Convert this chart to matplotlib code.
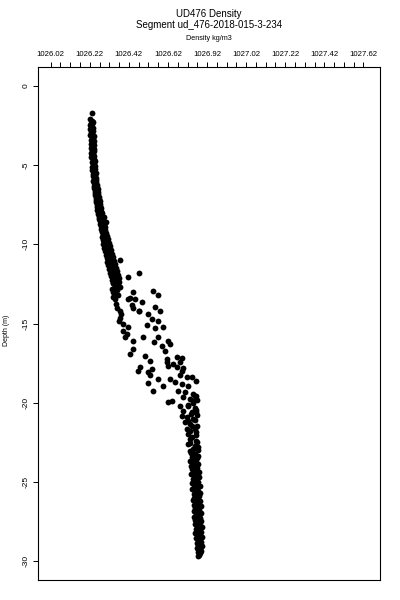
import matplotlib
matplotlib.use("Agg")
import matplotlib.pyplot as plt

plt.rcParams['font.family'] = ['Liberation Sans', 'DejaVu Sans']

# === Profile data (depth m, density kg/m3) ===
upper_depth = [
    -1.70,
    -2.10, -2.18, -2.25, -2.32, -2.40, -2.47, -2.55, -2.62, -2.70, -2.78,
    -2.85, -2.93, -3.00, -3.08, -3.15, -3.23, -3.30, -3.38, -3.45, -3.53,
    -3.60, -3.68, -3.75, -3.83, -3.90, -3.98, -4.05, -4.13, -4.20, -4.28,
    -4.35, -4.43, -4.50, -4.58, -4.65, -4.73, -4.80, -4.88, -4.95, -5.03,
    -5.10, -5.18, -5.25, -5.33, -5.40, -5.48, -5.55, -5.63, -5.70, -5.78,
    -5.85, -5.93, -6.00, -6.08, -6.15, -6.23, -6.30, -6.38, -6.45, -6.53,
    -6.60, -6.68, -6.75, -6.83, -6.90, -6.98, -7.05, -7.13, -7.20, -7.28,
    -7.35, -7.43, -7.50, -7.58, -7.65, -7.73, -7.80, -7.88, -7.95, -8.03,
    -8.10, -8.18, -8.25, -8.33, -8.40, -8.48, -8.55, -8.63, -8.70, -8.78,
    -8.85, -8.93, -9.00, -9.08, -9.15, -8.60, -8.30,
]
upper_density = [
    1026.231,
    1026.221, 1026.230, 1026.236, 1026.224, 1026.233, 1026.220, 1026.228, 1026.237, 1026.223, 1026.231,
    1026.238, 1026.225, 1026.233, 1026.223, 1026.239, 1026.229, 1026.236, 1026.224, 1026.240, 1026.230,
    1026.237, 1026.225, 1026.241, 1026.231, 1026.226, 1026.239, 1026.232, 1026.242, 1026.227, 1026.238,
    1026.233, 1026.243, 1026.228, 1026.240, 1026.234, 1026.245, 1026.229, 1026.241, 1026.235, 1026.247,
    1026.231, 1026.242, 1026.248, 1026.233, 1026.244, 1026.250, 1026.234, 1026.247, 1026.237, 1026.251,
    1026.239, 1026.253, 1026.238, 1026.254, 1026.241, 1026.256, 1026.242, 1026.258, 1026.244, 1026.260,
    1026.246, 1026.262, 1026.247, 1026.264, 1026.249, 1026.266, 1026.250, 1026.267, 1026.252, 1026.270,
    1026.254, 1026.271, 1026.256, 1026.274, 1026.258, 1026.276, 1026.259, 1026.279, 1026.262, 1026.281,
    1026.263, 1026.284, 1026.265, 1026.287, 1026.267, 1026.290, 1026.270, 1026.292, 1026.272, 1026.295,
    1026.275, 1026.297, 1026.277, 1026.300, 1026.280, 1026.302, 1026.295,
]

mid_depth = [
    -9.25, -9.30, -9.38, -9.45, -9.52, -9.60, -9.68, -9.75, -9.82, -9.90,
    -9.98, -10.05, -10.12, -10.20, -10.28, -10.35, -10.42, -10.50, -10.58, -10.65,
    -10.72, -10.80, -10.88, -10.95, -11.02, -11.10, -11.18, -11.25, -11.32, -11.40,
    -11.48, -11.55, -11.62, -11.70, -11.78, -11.85, -11.92, -12.00, -12.08, -12.15,
    -12.22, -12.30, -12.38, -12.45, -12.55, -12.75, -12.90, -13.10, -13.30, -10.96,
    -12.04, -11.78,
]
mid_density = [
    1026.280, 1026.302, 1026.290, 1026.310, 1026.282, 1026.298, 1026.312, 1026.286, 1026.303, 1026.316,
    1026.290, 1026.309, 1026.322, 1026.294, 1026.313, 1026.327, 1026.298, 1026.318, 1026.332, 1026.303,
    1026.322, 1026.338, 1026.307, 1026.328, 1026.343, 1026.310, 1026.333, 1026.348, 1026.315, 1026.337,
    1026.352, 1026.318, 1026.341, 1026.358, 1026.322, 1026.346, 1026.364, 1026.326, 1026.350, 1026.370,
    1026.335, 1026.353, 1026.372, 1026.340, 1026.352, 1026.345, 1026.360, 1026.350, 1026.340, 1026.373,
    1026.414, 1026.470,
]

scatter_depth = [
    -12.41, -12.67, -13.04, -12.98, -12.92, -13.17, -13.48, -13.36, -13.42, -13.67,
    -13.86, -13.99, -14.24, -14.24, -13.93, -14.24, -14.62, -14.43, -14.74, -15.12,
    -14.87, -15.06, -15.31, -15.25, -15.50, -15.69, -15.88, -15.88, -15.88, -16.13,
    -16.19, -16.45, -16.13, -16.32, -16.64, -16.95, -17.08, -16.76, -17.26, -17.14,
    -17.20, -17.39, -17.71, -17.58, -17.83, -17.77, -18.02, -17.90, -18.27, -18.27,
    -18.40, -18.40, -18.65, -18.78, -18.53, -18.97, -18.53, -18.71, -18.84, -18.97,
    -19.28, -19.28, -19.34, -19.47, -19.60, -19.66, -19.91, -19.91, -19.97, -20.23,
    -20.23, -20.35, -20.54, -20.60, -20.60, -20.86, -20.92, -21.04, -21.24, -21.36,
    -21.68, -21.68, -21.99, -21.87, -22.31, -22.43, -22.62, -22.75, -23.06, -22.81,
    -23.38, -23.38,
    -12.85, -13.23, -13.74, -14.43, -14.87, -15.25, -14.18, -13.48, -18.08, -17.45,
    -17.45, -17.77, -18.02, -14.05,
    -19.55, -19.75, -19.85, -20.05, -20.15, -20.45, -20.70, -20.75, -21.10, -21.15,
    -21.45, -21.50, -21.80, -22.05, -22.15, -22.50, -22.55, -22.90, -23.00, -23.20,
    -23.25,
]
scatter_density = [
    1026.337, 1026.373, 1026.337, 1026.439, 1026.541, 1026.567, 1026.347, 1026.424, 1026.449, 1026.485,
    1026.434, 1026.357, 1026.373, 1026.470, 1026.552, 1026.577, 1026.373, 1026.516, 1026.536, 1026.511,
    1026.567, 1026.388, 1026.552, 1026.593, 1026.388, 1026.409, 1026.398, 1026.490, 1026.567, 1026.439,
    1026.547, 1026.587, 1026.618, 1026.628, 1026.439, 1026.424, 1026.501, 1026.603, 1026.613, 1026.664,
    1026.690, 1026.526, 1026.618, 1026.644, 1026.695, 1026.475, 1026.465, 1026.536, 1026.526, 1026.680,
    1026.715, 1026.741, 1026.766, 1026.516, 1026.567, 1026.593, 1026.628, 1026.654, 1026.690, 1026.720,
    1026.541, 1026.669, 1026.705, 1026.746, 1026.766, 1026.695, 1026.746, 1026.639, 1026.618, 1026.680,
    1026.720, 1026.756, 1026.695, 1026.741, 1026.766, 1026.690, 1026.715, 1026.746, 1026.705, 1026.731,
    1026.715, 1026.756, 1026.720, 1026.766, 1026.731, 1026.766, 1026.720, 1026.756, 1026.731, 1026.772,
    1026.746, 1026.772,
    1026.332, 1026.363, 1026.352, 1026.378, 1026.368, 1026.414, 1026.470, 1026.414, 1026.516, 1026.613,
    1026.680, 1026.664, 1026.690, 1026.439,
    1026.760, 1026.735, 1026.770, 1026.750, 1026.725, 1026.765, 1026.740, 1026.770, 1026.760, 1026.725,
    1026.745, 1026.770, 1026.735, 1026.765, 1026.745, 1026.770, 1026.735, 1026.750, 1026.772, 1026.740,
    1026.760,
]

deep_depth = [
    -23.45, -23.52, -23.60, -23.68, -23.75, -23.82, -23.90, -23.98, -24.05, -24.12,
    -24.20, -24.28, -24.35, -24.42, -24.50, -24.58, -24.65, -24.72, -24.80, -24.88,
    -24.95, -25.02, -25.10, -25.18, -25.25, -25.32, -25.40, -25.48, -25.55, -25.62,
    -25.70, -25.78, -25.85, -25.92, -26.00, -26.08, -26.15, -26.22, -26.30, -26.38,
    -26.45, -26.52, -26.60, -26.68, -26.75, -26.82, -26.90, -26.98, -27.05, -27.12,
    -27.20, -27.28, -27.35, -27.42, -27.50, -27.58, -27.65, -27.72, -27.80, -27.88,
    -27.95, -28.02, -28.10, -28.18, -28.25, -28.32, -28.40, -28.48, -28.55, -28.62,
    -28.70, -28.78, -28.85, -28.92, -29.00, -29.08, -29.15, -29.22, -29.30, -29.38,
    -29.45, -29.52, -29.60, -29.68,
]
deep_density = [
    1026.745, 1026.770, 1026.755, 1026.735, 1026.762, 1026.748, 1026.775, 1026.740, 1026.758, 1026.770,
    1026.745, 1026.762, 1026.778, 1026.750, 1026.740, 1026.768, 1026.755, 1026.780, 1026.748, 1026.765,
    1026.758, 1026.775, 1026.745, 1026.762, 1026.782, 1026.752, 1026.768, 1026.745, 1026.775, 1026.760,
    1026.785, 1026.752, 1026.768, 1026.778, 1026.755, 1026.770, 1026.748, 1026.785, 1026.762, 1026.775,
    1026.752, 1026.788, 1026.765, 1026.758, 1026.780, 1026.755, 1026.772, 1026.790, 1026.762, 1026.778,
    1026.755, 1026.785, 1026.768, 1026.760, 1026.790, 1026.772, 1026.758, 1026.782, 1026.768, 1026.792,
    1026.762, 1026.778, 1026.770, 1026.788, 1026.760, 1026.780, 1026.772, 1026.792, 1026.765, 1026.782,
    1026.775, 1026.790, 1026.768, 1026.785, 1026.775, 1026.792, 1026.770, 1026.785, 1026.778, 1026.790,
    1026.772, 1026.786, 1026.780, 1026.772,
]

x_minor_ticks = [1026.02 + 0.05 * i for i in range(33)]
x_label_ticks = [1026.02, 1026.22, 1026.42, 1026.62, 1026.82, 1027.02, 1027.22, 1027.42, 1027.62]
x_label_text = ["1026.02", "1026.22", "1026.42", "1026.62", "1026.92", "1027.02",
                "1027.22", "1027.42", "1027.62"]
y_ticks = [0, -5, -10, -15, -20, -25, -30]
y_tick_text = ["0", "-5", "-10", "-15", "-20", "-25", "-30"]

depth = upper_depth + mid_depth + scatter_depth + deep_depth
density = upper_density + mid_density + scatter_density + deep_density

fig = plt.figure(figsize=(4, 6), dpi=100)
ax = fig.add_axes([0.095, 0.0333, 0.855, 0.855])

ax.plot(density, depth, linestyle="none", marker="o", markersize=4.2,
        color="black", markeredgewidth=0)

# R-style 4% padding around the data range
ax.set_xlim(1025.955, 1027.705)
ax.set_ylim(-31.2, 1.2)

ax.set_xticks(x_label_ticks)
ax.set_xticklabels(x_label_text, fontsize=5.6)
ax.set_xticks(x_minor_ticks, minor=True)
ax.tick_params(axis="x", which="both", direction="out", length=3.6, width=0.7,
               top=True, bottom=False, labeltop=True, labelbottom=False, pad=3)

ax.set_yticks(y_ticks)
ax.set_yticklabels(y_tick_text, rotation=90, va="center", fontsize=6)
ax.tick_params(axis="y", direction="out", length=3.6, width=0.7, pad=2.5)

for s in ax.spines.values():
    s.set_linewidth(0.8)

fig.text(0.5225, 1 - 14 / 600, "UD476 Density", ha="center", va="center", fontsize=7)
fig.text(0.5225, 1 - 25 / 600, "Segment ud_476-2018-015-3-234", ha="center", va="center", fontsize=7)
fig.text(0.5225, 1 - 38 / 600, "Density kg/m3", ha="center", va="center", fontsize=5.2)
fig.text(6 / 400, 1 - 330 / 600, "Depth (m)", ha="center", va="center", rotation=90, fontsize=5)

fig.savefig("out.png", dpi=100)
